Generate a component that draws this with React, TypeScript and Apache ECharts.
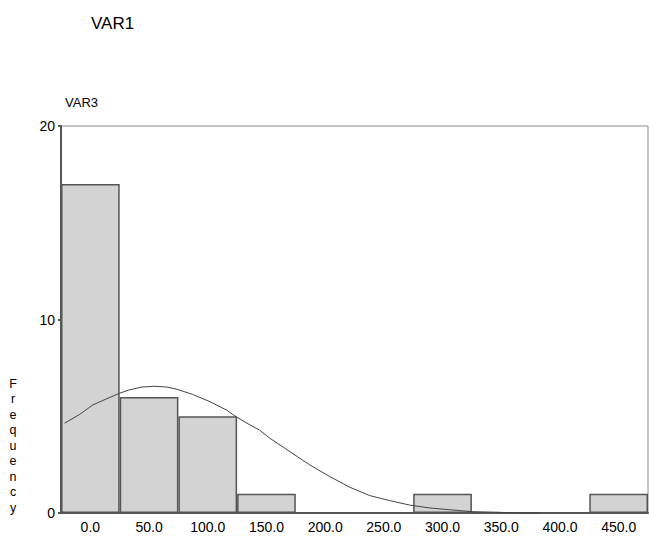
import React, { useEffect, useRef } from "react";
import * as echarts from "echarts";

const categories = ["0.0", "50.0", "100.0", "150.0", "200.0", "250.0", "300.0", "350.0", "400.0", "450.0"];
const frequencies = [17, 6, 5, 1, 0, 0, 1, 0, 0, 1];
const yTicks = [0, 10, 20];

const curveX = [-22, -9, 2, 16, 25, 33, 44, 55, 65, 73, 87, 102, 116, 124, 136, 144, 153, 170, 187, 204, 221, 238, 255, 272, 289, 306, 325, 346, 365, 382];
const curveY = [4.64, 5.1, 5.58, 5.96, 6.19, 6.36, 6.51, 6.55, 6.51, 6.41, 6.13, 5.75, 5.32, 4.98, 4.55, 4.29, 3.86, 3.17, 2.48, 1.88, 1.33, 0.9, 0.64, 0.41, 0.26, 0.17, 0.07, 0.04, 0.0, 0.0];

const chartTitle = "VAR1";
const subLabel = "VAR3";
const yLabel = "Frequency";

export default function App() {
  const ref = useRef<HTMLDivElement>(null);
  useEffect(() => {
    if (!ref.current) return;
    const chart = echarts.init(ref.current, undefined, { renderer: "svg" });
    const font = "Liberation Sans, Arial, sans-serif";
    chart.setOption({
      animation: false,
      backgroundColor: "#fff",
      textStyle: { fontFamily: font },
      title: {
        text: chartTitle,
        left: 86,
        top: 10,
        textStyle: { fontSize: 17, fontWeight: "normal", color: "#000", fontFamily: font },
      },
      graphic: [
        {
          type: "text",
          x: 65,
          y: 102,
          style: { text: subLabel, fontSize: 13, fill: "#000", fontFamily: font, verticalAlign: "middle", align: "left" },
        },
        {
          type: "text",
          x: 13,
          y: 376,
          style: {
            text: yLabel.split("").join("\n"),
            fontSize: 12.5,
            lineHeight: 15.5,
            fill: "#000",
            fontFamily: font,
            align: "center",
            verticalAlign: "top",
          },
        },
      ],
      grid: {
        left: 61,
        right: 1,
        top: 126,
        bottom: 24,
        show: true,
        borderColor: "#888",
        borderWidth: 1,
        backgroundColor: "transparent",
      },
      xAxis: [
        {
          type: "category",
          data: categories,
          boundaryGap: true,
          axisLine: { onZero: false, lineStyle: { color: "#555", width: 2 } },
          axisTick: { alignWithLabel: true, length: 3, lineStyle: { color: "#555", width: 2 } },
          axisLabel: { color: "#000", fontSize: 14, margin: 7, fontFamily: font },
          splitLine: { show: false },
        },
        {
          type: "value",
          min: -25,
          max: 475,
          show: false,
          splitLine: { show: false },
        },
      ],
      yAxis: {
        type: "value",
        min: yTicks[0],
        max: yTicks[yTicks.length - 1],
        interval: 10,
        axisLine: { show: true, onZero: false, lineStyle: { color: "#555", width: 2 } },
        axisTick: { show: true, length: 3, lineStyle: { color: "#555", width: 2 } },
        axisLabel: { color: "#000", fontSize: 14, margin: 6, fontFamily: font },
        splitLine: { show: false },
      },
      series: [
        {
          type: "bar",
          data: frequencies,
          xAxisIndex: 0,
          barCategoryGap: "0%",
          itemStyle: { color: "#d3d3d3", borderColor: "#555", borderWidth: 1.5 },
        },
        {
          type: "line",
          xAxisIndex: 1,
          data: curveX.map((x, i) => [x, curveY[i]]),
          showSymbol: false,
          symbol: "none",
          lineStyle: { color: "#444", width: 1 },
          z: 5,
        },
      ],
    });
    return () => chart.dispose();
  }, []);
  return <div ref={ref} style={{ width: 649, height: 537, position: "absolute", left: 0, top: 0 }} />;
}
